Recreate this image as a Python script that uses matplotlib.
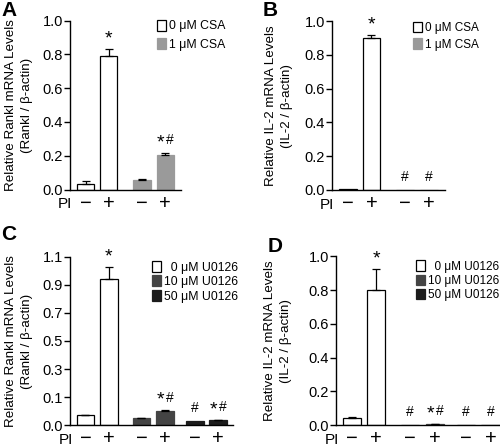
import numpy as np
import matplotlib
matplotlib.use("Agg")
import matplotlib.pyplot as plt
from matplotlib.patches import Patch

plt.rcParams["font.family"] = ["Liberation Sans", "DejaVu Sans"]

# Daten
pi_labels_4 = ["\u2212", "+", "\u2212", "+"]
pi_labels_6 = ["\u2212", "+", "\u2212", "+", "\u2212", "+"]

a_werte = [0.035, 0.789, 0.059, 0.207]
a_fehler = [0.016, 0.044, 0.002, 0.011]
a_marken = ["", "*", "", "*#"]

b_werte = [0.005, 0.897, 0.002, 0.002]
b_fehler = [0.0, 0.020, 0.0, 0.0]
b_marken = ["", "*", "#", "#"]

c_werte = [0.0345, 0.94, 0.026, 0.052, 0.015, 0.019]
c_fehler = [0.003, 0.09, 0.001, 0.001, 0.0, 0.001]
c_marken = ["", "*", "", "*#", "#", "*#"]

d_werte = [0.043, 0.80, 0.001, 0.008, 0.001, 0.003]
d_fehler = [0.006, 0.123, 0.0, 0.001, 0.0, 0.0]
d_marken = ["", "*", "#", "*#", "#", "#"]

csa_labels = ["0 \u03bcM CSA", "1 \u03bcM CSA"]
u0126_labels = ["  0 \u03bcM U0126", "10 \u03bcM U0126", "50 \u03bcM U0126"]

weiss = "white"
grau = "#9a9a9a"
dunkel = "#444444"
schwarz = "#1c1c1c"

pos4 = [0, 1, 2.43, 3.43]
pos6 = [0, 1, 2.4, 3.42, 4.69, 5.69]


def c_fwd(y):
    y = np.asarray(y, dtype=float)
    return np.where(y <= 0.1, y / 0.1, 1 + (y - 0.1) / 0.2)


def c_inv(u):
    u = np.asarray(u, dtype=float)
    return np.where(u <= 1, u * 0.1, 0.1 + (u - 1) * 0.2)


def marke(ax, x, y, m):
    # Stern etwas groesser als Raute, wie im Original
    if m == "*":
        teile = [("*", 0)]
    elif m == "#":
        teile = [("#", 0)]
    else:
        teile = [("*", -3.2), ("#", 3.2)]
    for t, dx in teile:
        groesse = 14 if t == "*" else 10
        dy = -1 if t == "*" else 2
        ax.annotate(t, (x, y), xytext=(dx, dy + 2), textcoords="offset points",
                    ha="center", va="bottom", fontsize=groesse)


def panel(ax, pos, werte, fehler, marken, farben, pi_labels, xlim):
    for x, w, f, m, c in zip(pos, werte, fehler, marken, farben):
        ec = "black" if c == weiss else c
        ax.bar(x, w, width=0.75, color=c, edgecolor=ec, linewidth=0.9)
        if f > 0:
            ax.errorbar(x, w, yerr=[[0], [f]], fmt="none", ecolor="black",
                        elinewidth=0.9, capsize=3, capthick=0.9)
        if m:
            marke(ax, x, w + f, m)
    for s in ["top", "right"]:
        ax.spines[s].set_visible(False)
    ax.spines["left"].set_linewidth(1.0)
    ax.spines["bottom"].set_linewidth(1.0)
    ax.set_xlim(*xlim)
    ax.set_xticks(pos)
    ax.set_xticklabels(pi_labels, fontsize=14.5)
    ax.tick_params(axis="x", length=0, pad=3)
    ax.tick_params(axis="y", length=4, width=1.0, labelsize=10.5, pad=1)
    ax.annotate("PI", (0.02, 0), xycoords="axes fraction", xytext=(0, -10.5),
                textcoords="offset points", ha="right", va="center", fontsize=11)


def legende(ax, labels, farben, anker, abstand, groesse):
    handles = []
    for lab, c in zip(labels, farben):
        ec = "black" if c == weiss else c
        handles.append(Patch(facecolor=c, edgecolor=ec, linewidth=0.9, label=lab))
    ax.legend(handles=handles, loc="upper left", bbox_to_anchor=anker,
              frameon=False, fontsize=groesse, handlelength=0.8, handleheight=1.0,
              handletextpad=0.25, labelspacing=abstand, borderaxespad=0,
              borderpad=0)


fig = plt.figure(figsize=(5.0, 4.48), dpi=100)

# A
ax_a = fig.add_axes([0.14, 0.577, 0.222, 0.377])
panel(ax_a, pos4, a_werte, a_fehler, a_marken, [weiss, weiss, grau, grau],
      pi_labels_4, (-0.67, 4.11))
ax_a.set_ylim(0, 1.0)
ax_a.set_yticks([0, 0.2, 0.4, 0.6, 0.8, 1.0])
ax_a.set_yticklabels(["0.0", "0.2", "0.4", "0.6", "0.8", "1.0"])
ax_a.set_ylabel("Relative Rankl mRNA Levels\n(Rankl / \u03b2-actin)", fontsize=9.6,
                linespacing=1.45)
ax_a.yaxis.set_label_coords(-0.33, 0.5)
legende(ax_a, csa_labels, [weiss, grau], (0.78, 1.005), 0.45, 8.8)

# B
ax_b = fig.add_axes([0.664, 0.576, 0.226, 0.377])
panel(ax_b, pos4, b_werte, b_fehler, b_marken, [weiss, weiss, grau, grau],
      pi_labels_4, (-0.67, 4.11))
ax_b.set_ylim(0, 1.0)
ax_b.set_yticks([0, 0.2, 0.4, 0.6, 0.8, 1.0])
ax_b.set_yticklabels(["0.0", "0.2", "0.4", "0.6", "0.8", "1.0"])
ax_b.set_ylabel("Relative IL-2 mRNA Levels\n(IL-2 / \u03b2-actin)", fontsize=9.6,
                linespacing=1.45)
ax_b.yaxis.set_label_coords(-0.345, 0.5)
legende(ax_b, csa_labels, [weiss, grau], (0.717, 0.995), 0.35, 8.5)

# C (gebrochene Achse: 0-0.1 gestreckt)
ax_c = fig.add_axes([0.14, 0.051, 0.326, 0.376])
ax_c.set_yscale("function", functions=(c_fwd, c_inv))
panel(ax_c, pos6, c_werte, c_fehler, c_marken,
      [weiss, weiss, dunkel, dunkel, schwarz, schwarz], pi_labels_6, (-0.665, 6.33))
ax_c.set_ylim(0, 1.1)
ax_c.set_yticks([0, 0.1, 0.3, 0.5, 0.7, 0.9, 1.1])
ax_c.set_yticklabels(["0.0", "0.1", "0.3", "0.5", "0.7", "0.9", "1.1"])
ax_c.yaxis.set_minor_locator(matplotlib.ticker.NullLocator())
ax_c.set_ylabel("Relative Rankl mRNA Levels\n(Rankl / \u03b2-actin)", fontsize=9.6,
                linespacing=1.45)
ax_c.yaxis.set_label_coords(-0.227, 0.5)
legende(ax_c, u0126_labels, [weiss, dunkel, schwarz], (0.5, 0.975), 0.15, 8.8)

# D
ax_d = fig.add_axes([0.672, 0.051, 0.34, 0.377])
panel(ax_d, pos6, d_werte, d_fehler, d_marken,
      [weiss, weiss, dunkel, dunkel, schwarz, schwarz], pi_labels_6, (-0.65, 6.33))
ax_d.set_ylim(0, 1.0)
ax_d.set_yticks([0, 0.2, 0.4, 0.6, 0.8, 1.0])
ax_d.set_yticklabels(["0.0", "0.2", "0.4", "0.6", "0.8", "1.0"])
ax_d.set_ylabel("Relative IL-2 mRNA Levels\n(IL-2 / \u03b2-actin)", fontsize=9.6,
                linespacing=1.45)
ax_d.yaxis.set_label_coords(-0.26, 0.5)
legende(ax_d, u0126_labels, [weiss, dunkel, schwarz], (0.47, 0.975), 0.15, 8.5)

# Buchstaben
for buchst, x, y in [("A", 0.003, 0.998), ("B", 0.525, 0.998),
                     ("C", 0.003, 0.497), ("D", 0.535, 0.47)]:
    fig.text(x, y, buchst, fontsize=15, fontweight="bold", ha="left", va="top")

fig.savefig("out.png", dpi=100)
